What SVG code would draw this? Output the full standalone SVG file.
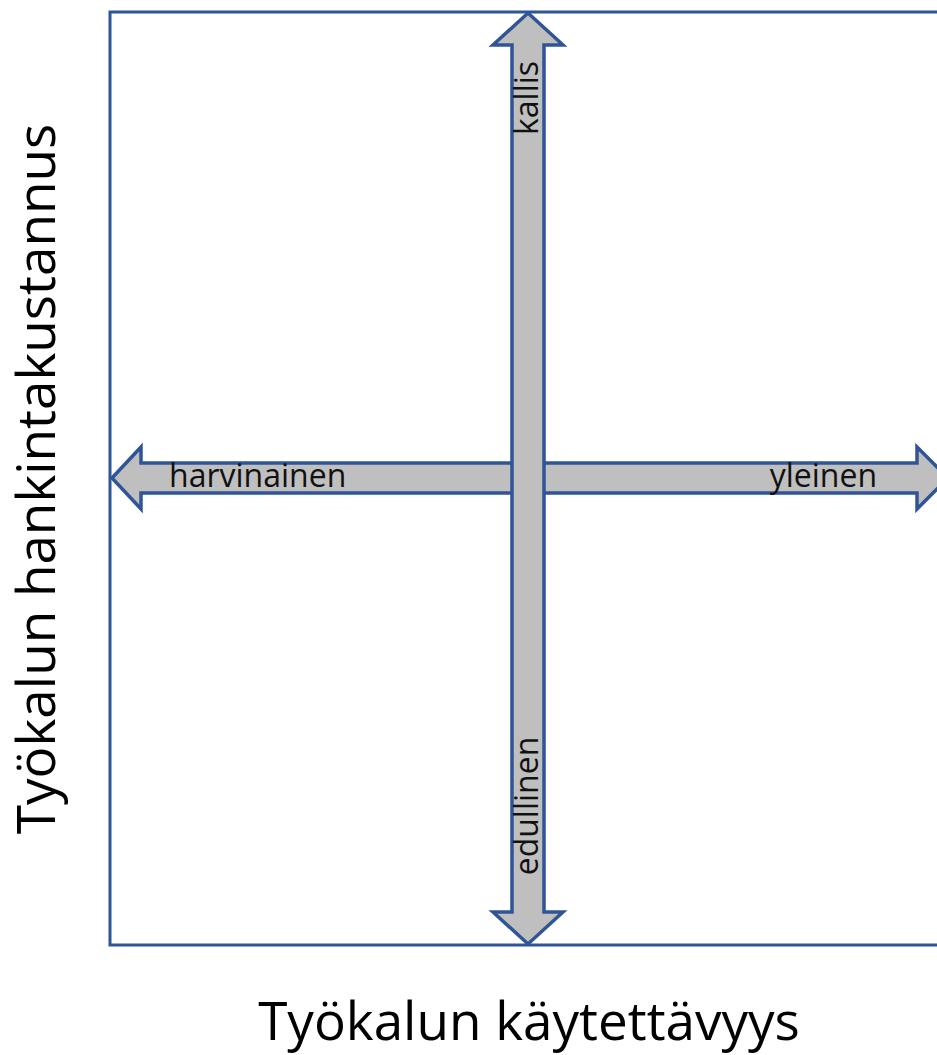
<svg xmlns="http://www.w3.org/2000/svg" width="937" height="1055" viewBox="0 0 937 1055">
  <style>
    .frame { fill: none; stroke: #2F5597; stroke-width: 3; }
    .arrow { fill: #BFBFBF; stroke: #2F5597; stroke-width: 3.5; stroke-linejoin: miter; }
    .lbl { font-family: "Open Sans", "DejaVu Sans", sans-serif; font-size: 32px; fill: #111111; }
    .axis { font-family: "Open Sans", "DejaVu Sans", sans-serif; font-size: 53px; fill: #000000; }
  </style>
  <rect width="937" height="1055" fill="#ffffff"/>

  <!-- plot frame (right side runs past the edge) -->
  <g id="frame">
    <rect class="frame" x="110" y="12" width="860" height="933"/>
  </g>

  <!-- double-headed axis arrows -->
  <g id="connectors">
    <polygon id="axis-horizontal" class="arrow"
      points="112,478 141,447 141,463 917,463 917,447 948,478 917,509 917,493 141,493 141,509"/>
    <polygon id="axis-vertical" class="arrow"
      points="528,13 563,45 544,45 544,912 563,912 528,944 493,912 512,912 512,45 493,45"/>
  </g>

  <g id="label-harvinainen">
    <text class="lbl" x="169" y="487">harvinainen</text>
  </g>
  <g id="label-yleinen">
    <text class="lbl" x="877" y="487" text-anchor="end">yleinen</text>
  </g>
  <g id="label-kallis">
    <text class="lbl" text-anchor="middle" transform="translate(538,98) rotate(-90)">kallis</text>
  </g>
  <g id="label-edullinen">
    <text class="lbl" text-anchor="middle" transform="translate(538,806) rotate(-90)">edullinen</text>
  </g>

  <g id="axis-title-x">
    <text class="axis" x="529" y="1040" text-anchor="middle">Työkalun käytettävyys</text>
  </g>
  <g id="axis-title-y">
    <text class="axis" text-anchor="middle" transform="translate(55,479) rotate(-90)">Työkalun hankintakustannus</text>
  </g>
</svg>
